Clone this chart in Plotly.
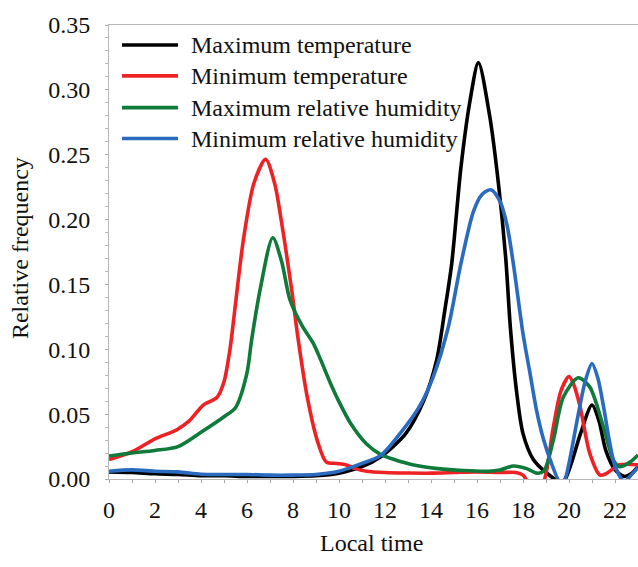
import plotly.graph_objects as go

# Maximum temperature
tmax_hours = [0, 1, 2, 3, 4, 5, 6, 7, 8, 9, 10, 11, 11.8, 12.9, 13.7, 14.25, 14.6, 14.9, 15.3, 15.7,
              16.06, 16.55, 16.93, 17.25, 17.45, 17.73, 18.0, 18.45, 19.0, 19.6, 19.8, 20.1, 20.5,
              21.0, 21.3, 21.6, 22.0, 22.4, 22.7, 23.0]
tmax_freq = [0.0055, 0.005, 0.004, 0.0035, 0.0025, 0.0025, 0.002, 0.002, 0.002, 0.0025, 0.0045,
             0.0095, 0.017, 0.035, 0.061, 0.092, 0.130, 0.166, 0.240, 0.292,
             0.321, 0.280, 0.228, 0.170, 0.117, 0.066, 0.035, 0.015, 0.005, -0.002, -0.001, 0.012,
             0.035, 0.057, 0.045, 0.022, 0.007, 0.002, 0.004, 0.0095]

# Minimum temperature
tmin_hours = [0, 1, 2, 2.95, 3.5, 4.1, 4.7, 5.0, 5.26, 5.5, 5.84, 6.3, 6.81, 7.2, 7.51, 7.94, 8.23,
              8.6, 9.05, 9.45, 9.9, 10.3, 10.7, 11.2, 12, 13, 14, 15, 16, 17, 17.7, 18.0, 18.2,
              18.5, 18.9, 19.3, 19.65, 20.0, 20.2, 20.48, 20.9, 21.35, 21.6, 21.93, 22.2, 23.0]
tmin_freq = [0.015, 0.021, 0.031, 0.038, 0.045, 0.057, 0.063, 0.075, 0.100, 0.135, 0.184, 0.228,
             0.2465, 0.228, 0.197, 0.146, 0.107, 0.065, 0.030, 0.013, 0.012, 0.011, 0.008, 0.006,
             0.005, 0.0046, 0.0045, 0.005, 0.0055, 0.005, 0.005, 0.003, -0.002, -0.01, -0.002,
             0.038, 0.068, 0.079, 0.073, 0.056, 0.020, 0.003, 0.004, 0.008, 0.011, 0.011]

# Maximum relative humidity
rhmax_hours = [0, 1, 2, 3, 4, 5, 5.5, 5.99, 6.2, 6.57, 7.12, 7.5, 7.87, 8.4, 8.9, 9.2, 9.6, 9.96,
               10.5, 11.2, 11.8, 12.4, 13.2, 14.3, 15.4, 16.5, 17.0, 17.58, 18.16, 18.6, 18.9,
               19.32, 19.75, 20.4, 20.9, 21.5, 21.93, 22.2, 22.65, 23.0]
rhmax_freq = [0.0177, 0.020, 0.022, 0.025, 0.036, 0.048, 0.055, 0.081, 0.107, 0.146, 0.186, 0.168,
              0.138, 0.118, 0.104, 0.092, 0.075, 0.061, 0.043, 0.027, 0.019, 0.015, 0.011, 0.008,
              0.0065, 0.006, 0.007, 0.010, 0.008, 0.0045, 0.006, 0.030, 0.063, 0.078, 0.071,
              0.040, 0.0146, 0.0095, 0.013, 0.0185]

# Minimum relative humidity
rhmin_hours = [0, 1, 2, 3, 4, 5, 6, 7, 8, 9, 10, 11, 11.8, 12.65, 13.5, 14.1, 14.75, 15.3, 15.84,
               16.2, 16.6, 17.0, 17.3, 17.58, 18.0, 18.3, 18.6, 18.9, 19.2, 19.6, 19.8, 20.0,
               20.33, 20.7, 21.0, 21.25, 21.5, 21.75, 22.0, 22.4, 22.7, 23.0]
rhmin_freq = [0.006, 0.007, 0.006, 0.0055, 0.0037, 0.0035, 0.0035, 0.003, 0.003, 0.0035, 0.006,
              0.012, 0.018, 0.035, 0.056, 0.079, 0.117, 0.166, 0.206, 0.219, 0.223, 0.214,
              0.196, 0.166, 0.112, 0.082, 0.052, 0.030, 0.014, -0.002, -0.001, 0.012, 0.043,
              0.075, 0.089, 0.078, 0.056, 0.030, 0.010, -0.002, 0.003, 0.009]

series = [
    ("Maximum temperature", tmax_hours, tmax_freq, "#000000"),
    ("Minimum temperature", tmin_hours, tmin_freq, "#ee2224"),
    ("Maximum relative humidity", rhmax_hours, rhmax_freq, "#0f7a3a"),
    ("Minimum relative humidity", rhmin_hours, rhmin_freq, "#2a6bbf"),
]

x_ticks = list(range(0, 23, 2))
y_ticks = [0.0, 0.05, 0.10, 0.15, 0.20, 0.25, 0.30, 0.35]

FONT = "Liberation Serif, Times New Roman, serif"
FS = 24

fig = go.Figure()
for name, xs, ys, col in series:
    fig.add_trace(go.Scatter(
        x=xs, y=ys, name=name, mode="lines", showlegend=False,
        line=dict(color=col, width=3.6, shape="spline", smoothing=0.8),
    ))

# Legend drawn with shapes + annotations (paper coordinates)
legend_y = [0.956, 0.888, 0.818, 0.750]
for (name, _, _, col), ly in zip(series, legend_y):
    fig.add_shape(type="line", xref="paper", yref="paper", x0=0.0246, x1=0.1304, y0=ly, y1=ly,
                  line=dict(color=col, width=3.6))
    fig.add_annotation(text=name, xref="paper", yref="paper", x=0.152, y=ly,
                       xanchor="left", yanchor="middle", showarrow=False,
                       font=dict(family=FONT, size=FS, color="#111111"))

fig.add_annotation(text="Local time", xref="paper", yref="paper", x=0.497, y=-0.141,
                   xanchor="center", yanchor="middle", showarrow=False,
                   font=dict(family=FONT, size=FS, color="#111111"))
fig.add_annotation(text="Relative frequency", xref="paper", yref="paper", x=-0.168, y=0.509,
                   xanchor="center", yanchor="middle", showarrow=False, textangle=-90,
                   font=dict(family=FONT, size=FS, color="#111111"))

fig.update_layout(
    width=638, height=567,
    margin=dict(l=109, r=0, t=25, b=88),
    paper_bgcolor="white", plot_bgcolor="white",
    font=dict(family=FONT, size=FS, color="#111111"),
    xaxis=dict(
        range=[0, 23], tickvals=x_ticks, ticktext=[str(v) for v in x_ticks],
        showgrid=False, zeroline=False,
        showline=True, linecolor="#b8b8b8", linewidth=1, mirror=True,
        ticks="outside", ticklen=3, tickcolor="#a8a8a8",
        minor=dict(dtick=1, ticks="outside", ticklen=3, tickcolor="#a8a8a8"),
        ticklabelstandoff=6,
    ),
    yaxis=dict(
        range=[0, 0.35], tickvals=y_ticks, ticktext=[f"{v:.2f}" for v in y_ticks],
        showgrid=False, zeroline=False,
        showline=True, linecolor="#b8b8b8", linewidth=1,
        ticks="outside", ticklen=3, tickcolor="#a8a8a8",
        minor=dict(dtick=0.01, ticks="outside", ticklen=3, tickcolor="#b8b8b8"),
        ticklabelstandoff=10,
    ),
)

fig.write_html("out.html")
